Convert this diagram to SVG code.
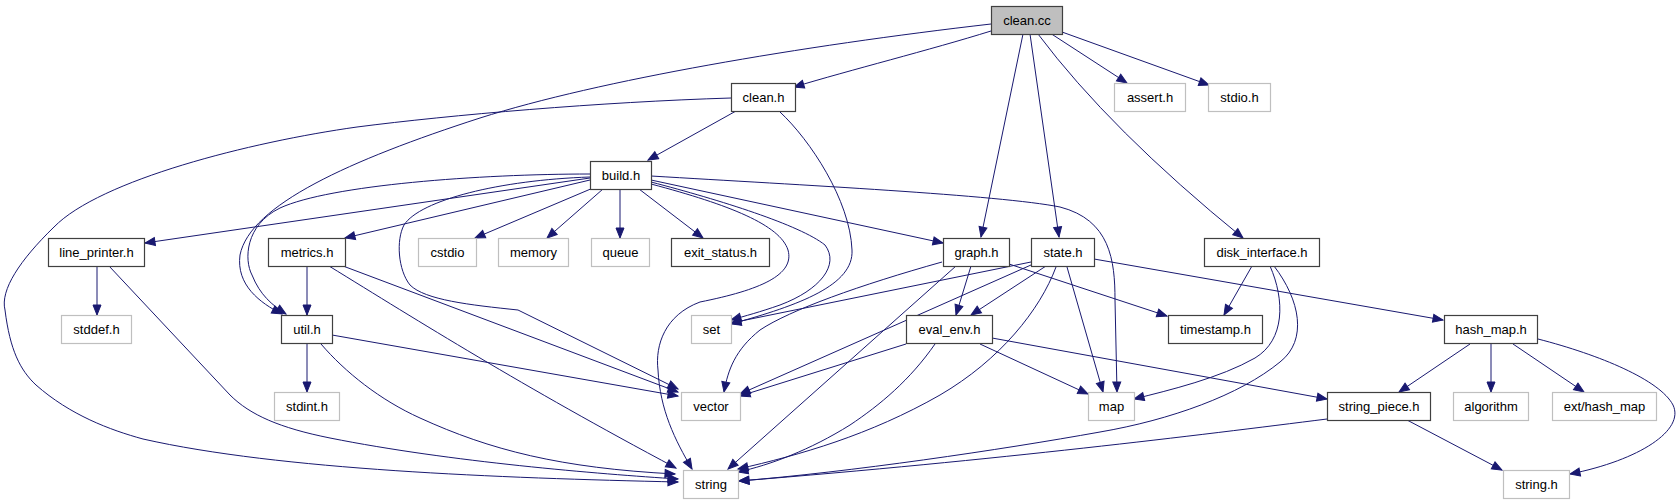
<svg xmlns="http://www.w3.org/2000/svg" width="1680" height="504" viewBox="0 0 1680 504">
<style>
.n rect{fill:#fff;stroke:#404040;stroke-width:1.2}
.u rect{fill:#fff;stroke:#bfbfbf;stroke-width:1.2}
.r rect{fill:#bfbfbf;stroke:#404040;stroke-width:1.2}
text{font-family:"Liberation Sans",Arial,sans-serif;font-size:13px;text-anchor:middle;fill:#000}
#edges path{fill:none;stroke:#191970;stroke-width:1;marker-end:url(#a)}
</style>
<defs>
<marker id="a" markerWidth="12" markerHeight="10" refX="10" refY="4" orient="auto" markerUnits="userSpaceOnUse" style="overflow:visible">
<path d="M0,0 L10,4 L0,8 z" fill="#191970" stroke="#191970" stroke-width="1"/>
</marker>
</defs>
<rect width="1680" height="504" fill="#fff"/>
<g id="edges">
<path d="M991,31 C930,50 850,70 794,87"/>
<path d="M991,24 C800,46 600,80 480,118 C350,160 250,205 240,255 C236,285 260,303 282,314"/>
<path d="M1023,34 L981,237"/>
<path d="M1030,34 L1059,237"/>
<path d="M1038,34 Q1110,130 1243,238"/>
<path d="M1050,33 L1127,83"/>
<path d="M1062,32 L1209,85"/>
<path d="M736,111 L648,160"/>
<path d="M731,98 C600,102 450,115 357,127 C250,142 100,180 54,227 C20,260 0,290 5,310 C10,350 20,370 36,385 C70,415 110,430 143,439 C280,470 500,478 678,482"/>
<path d="M780,112 C810,140 850,200 852,250 C854,285 800,305 731,324"/>
<path d="M590,178 L145,243"/>
<path d="M590,180 L345,238"/>
<path d="M590,174 C480,174 330,185 280,208 C245,225 244,260 252,275 C260,295 272,305 286,314"/>
<path d="M593,188 L475,238"/>
<path d="M603,189 L547,238"/>
<path d="M620,189 L620,238"/>
<path d="M639,189 L703,238"/>
<path d="M651,180 L943,243"/>
<path d="M651,176 C800,185 1000,195 1060,207 C1110,220 1115,260 1115,300 L1117,392"/>
<path d="M651,182 C720,200 800,225 825,245 C840,265 820,290 780,305 C760,312 745,316 731,320"/>
<path d="M590,177 C500,180 420,200 404,225 C396,240 398,270 410,285 C425,300 470,305 518,310 L678,389"/>
<path d="M651,184 C730,205 780,225 788,250 C795,275 760,290 700,302 C665,315 655,345 658,370 C660,410 675,440 692,469"/>
<path d="M97,266 L97,315"/>
<path d="M109,266 L230,395 C250,415 280,428 330,438 C450,462 600,474 678,479"/>
<path d="M307,266 L307,315"/>
<path d="M343,266 L678,392"/>
<path d="M329,266 C420,322 520,385 676,468"/>
<path d="M307,343 L307,392"/>
<path d="M332,335 L678,396"/>
<path d="M321,344 C345,372 380,400 420,418 C490,450 560,468 675,474"/>
<path d="M971,266 L956,315"/>
<path d="M1009,264 L1167,316"/>
<path d="M942,262 C860,285 790,310 760,330 C735,350 728,370 724,392"/>
<path d="M956,266 L728,469"/>
<path d="M1031,262 L731,323"/>
<path d="M1031,265 L740,394"/>
<path d="M1046,266 L971,315"/>
<path d="M1056,267 C1040,310 1000,360 940,395 C870,435 800,455 738,469"/>
<path d="M1067,267 L1103,392"/>
<path d="M1094,259 L1443,320"/>
<path d="M906,344 L740,396"/>
<path d="M935,344 C910,380 880,405 850,425 C810,450 770,465 738,472"/>
<path d="M980,344 L1088,394"/>
<path d="M992,338 L1327,399"/>
<path d="M1252,266 L1224,315"/>
<path d="M1270,266 C1285,300 1285,340 1255,358 C1220,378 1170,390 1134,399"/>
<path d="M1274,266 C1300,300 1308,340 1280,362 C1240,395 1170,420 1100,432 C1000,450 850,472 739,481"/>
<path d="M1327,419 C1200,435 1000,460 739,481"/>
<path d="M1470,344 L1399,392"/>
<path d="M1491,344 L1491,392"/>
<path d="M1513,344 L1584,392"/>
<path d="M1538,339 C1600,355 1660,380 1673,405 C1685,430 1640,460 1570,474"/>
<path d="M1407,420 L1502,470"/>
</g>
<g id="clean_cc" class="r"><rect x="991.5" y="6.5" width="71" height="28"/><text x="1027" y="25">clean.cc</text></g>
<g id="clean_h" class="n"><rect x="731.5" y="83.5" width="64" height="28"/><text x="763.5" y="102">clean.h</text></g>
<g id="build_h" class="n"><rect x="590.5" y="161.5" width="61" height="28"/><text x="621" y="180">build.h</text></g>
<g id="assert_h" class="u"><rect x="1114.5" y="83.5" width="71" height="28"/><text x="1150" y="102">assert.h</text></g>
<g id="stdio_h" class="u"><rect x="1208.5" y="83.5" width="62" height="28"/><text x="1239.5" y="102">stdio.h</text></g>
<g id="line_printer_h" class="n"><rect x="48.5" y="238.5" width="96" height="28"/><text x="96.5" y="257">line_printer.h</text></g>
<g id="metrics_h" class="n"><rect x="268.5" y="238.5" width="77" height="28"/><text x="307" y="257">metrics.h</text></g>
<g id="cstdio" class="u"><rect x="418.5" y="238.5" width="58" height="28"/><text x="447.5" y="257">cstdio</text></g>
<g id="memory" class="u"><rect x="498.5" y="238.5" width="70" height="28"/><text x="533.5" y="257">memory</text></g>
<g id="queue" class="u"><rect x="591.5" y="238.5" width="58" height="28"/><text x="620.5" y="257">queue</text></g>
<g id="exit_status_h" class="n"><rect x="671.5" y="238.5" width="98" height="28"/><text x="720.5" y="257">exit_status.h</text></g>
<g id="graph_h" class="n"><rect x="943.5" y="238.5" width="66" height="28"/><text x="976.5" y="257">graph.h</text></g>
<g id="state_h" class="n"><rect x="1031.5" y="238.5" width="63" height="28"/><text x="1063" y="257">state.h</text></g>
<g id="disk_interface_h" class="n"><rect x="1204.5" y="238.5" width="115" height="28"/><text x="1262" y="257">disk_interface.h</text></g>
<g id="stddef_h" class="u"><rect x="61.5" y="315.5" width="70" height="28"/><text x="96.5" y="334">stddef.h</text></g>
<g id="util_h" class="n"><rect x="281.5" y="315.5" width="51" height="28"/><text x="307" y="334">util.h</text></g>
<g id="set" class="u"><rect x="691.5" y="315.5" width="40" height="28"/><text x="711.5" y="334">set</text></g>
<g id="eval_env_h" class="n"><rect x="906.5" y="315.5" width="86" height="28"/><text x="949.5" y="334">eval_env.h</text></g>
<g id="timestamp_h" class="n"><rect x="1168.5" y="315.5" width="94" height="28"/><text x="1215.5" y="334">timestamp.h</text></g>
<g id="hash_map_h" class="n"><rect x="1444.5" y="315.5" width="93" height="28"/><text x="1491" y="334">hash_map.h</text></g>
<g id="stdint_h" class="u"><rect x="274.5" y="392.5" width="65" height="28"/><text x="307" y="411">stdint.h</text></g>
<g id="vector" class="u"><rect x="681.5" y="392.5" width="59" height="28"/><text x="711" y="411">vector</text></g>
<g id="map" class="u"><rect x="1088.5" y="392.5" width="46" height="28"/><text x="1111.5" y="411">map</text></g>
<g id="string_piece_h" class="n"><rect x="1327.5" y="392.5" width="103" height="28"/><text x="1379" y="411">string_piece.h</text></g>
<g id="algorithm" class="u"><rect x="1453.5" y="392.5" width="75" height="28"/><text x="1491" y="411">algorithm</text></g>
<g id="ext_hash_map" class="u"><rect x="1552.5" y="392.5" width="104" height="28"/><text x="1604.5" y="411">ext/hash_map</text></g>
<g id="string" class="u"><rect x="683.5" y="470.5" width="55" height="28"/><text x="711" y="489">string</text></g>
<g id="string_h" class="u"><rect x="1503.5" y="470.5" width="66" height="28"/><text x="1536.5" y="489">string.h</text></g>
</svg>
